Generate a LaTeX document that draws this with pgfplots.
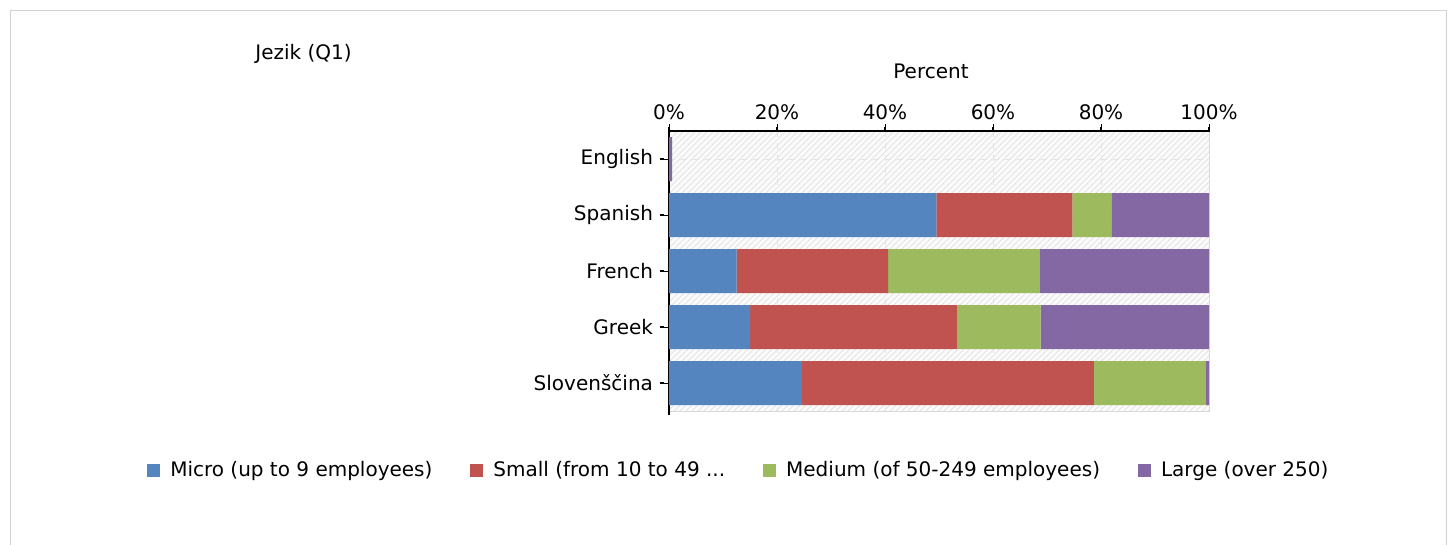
\documentclass[border=0pt]{standalone}
\usepackage{pgfplots}
\pgfplotsset{compat=1.18}
\usepackage{fontspec}
\setmainfont{DejaVu Sans}
\usetikzlibrary{patterns}
\definecolor{cMicro}{RGB}{85,133,190}
\definecolor{cSmall}{RGB}{192,83,80}
\definecolor{cMedium}{RGB}{157,187,94}
\definecolor{cLarge}{RGB}{131,104,164}
\begin{document}
\begin{tikzpicture}[font=\fontsize{10}{12}\selectfont]
\useasboundingbox (0,0) rectangle (728pt,-272.5pt);
\draw[gray!35] (5pt,-272.5pt) -- (5pt,-5pt) -- (723pt,-5pt) -- (723pt,-272.5pt);
\node[anchor=west, inner sep=0pt] at (127.5pt,-27pt) {Jezik (Q1)};
\begin{axis}[
  at={(334.5pt,-65.5pt)}, anchor=north west,
  scale only axis, width=270pt, height=140pt,
  xbar stacked, bar width=22pt,
  xmin=0, xmax=100, ymin=-0.5, ymax=4.5, y dir=reverse,
  ytick={0,...,4}, yticklabels={English,Spanish,French,Greek,Slovenščina},
  xtick={0,20,...,100},
  xticklabel={\pgfmathprintnumber{\tick}\%},
  /pgf/number format/assume math mode=true,
  xticklabel pos=right, xtick pos=right, ytick pos=left,
  axis line style={gray!30},
  tick align=outside, major tick length=3.5pt,
  major tick style={draw=black, solid, line width=0.5pt},
  xticklabel style={yshift=-1.5pt},
  yticklabel style={xshift=-1pt},
  xlabel={Percent},
  xlabel style={yshift=6pt, xshift=-4pt},
  grid=major, major grid style={dashed, gray!22},
  axis background/.style={preaction={fill=gray!3}, pattern=north east lines, pattern color=gray!22},
  legend columns=4,
  legend style={at={(-0.978,-0.213)}, anchor=west, draw=none, fill=none,
    /tikz/every odd column/.append style={column sep=3pt},
    /tikz/every even column/.append style={column sep=17pt}},
  legend image code/.code={\fill[#1, draw=none] (0pt,-3pt) rectangle (6.5pt,3.5pt);},
  every axis plot/.append style={draw=none},
  clip=false,
]
\addplot[fill=cMicro] coordinates {(0,0) (49.5,1) (12.5,2) (15.0,3) (24.6,4)};
\addlegendentry{Micro (up to 9 employees)}
\addplot[fill=cSmall] coordinates {(0,0) (25.2,1) (28.1,2) (38.3,3) (54.1,4)};
\addlegendentry{Small (from 10 to 49 {...}}
\addplot[fill=cMedium] coordinates {(0,0) (7.2,1) (28.1,2) (15.5,3) (20.7,4)};
\addlegendentry{Medium (of 50-249 employees)}
\addplot[fill=cLarge] coordinates {(0.6,0) (18.1,1) (31.3,2) (31.2,3) (0.6,4)};
\addlegendentry{Large (over 250)}
\draw[black, line width=0.6pt] ([yshift=-2pt]axis description cs:0,0) -- (axis description cs:0,1) -- (axis description cs:1,1);
\pgfplotsinvokeforeach{0,0.2,0.4,0.6,0.8,1}{
  \draw[black, line width=0.6pt] ([yshift=-0.5pt]axis description cs:#1,1) -- ([yshift=2pt]axis description cs:#1,1);
}
\pgfplotsinvokeforeach{0.1,0.3,0.5,0.7,0.9}{
  \draw[black, line width=0.6pt] ([xshift=-4.5pt]axis description cs:0,#1) -- ([xshift=-2.5pt]axis description cs:0,#1);
}
\end{axis}
\end{tikzpicture}
\end{document}
